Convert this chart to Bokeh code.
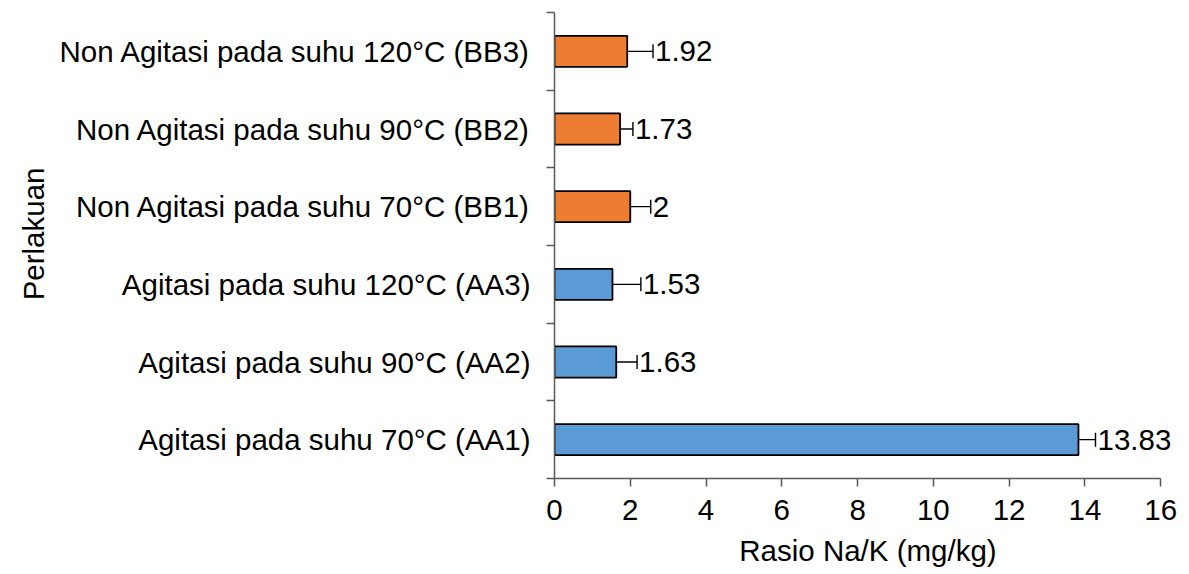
from bokeh.plotting import figure
from bokeh.models import ColumnDataSource, FixedTicker, Whisker, TeeHead, Range1d, Title
from bokeh.core.properties import value
from bokeh.embed import file_html
from bokeh.resources import INLINE

# data (bottom to top)
categories = [
    "Agitasi pada suhu 70°C (AA1)",
    "Agitasi pada suhu 90°C (AA2)",
    "Agitasi pada suhu 120°C (AA3)",
    "Non Agitasi pada suhu 70°C (BB1)",
    "Non Agitasi pada suhu 90°C (BB2)",
    "Non Agitasi pada suhu 120°C (BB3)",
]
values = [13.83, 1.63, 1.53, 2.0, 1.73, 1.92]
errors = [0.45, 0.55, 0.75, 0.54, 0.34, 0.68]
groups = ["A", "A", "A", "B", "B", "B"]
x_ticks = [0, 2, 4, 6, 8, 10, 12, 14, 16]

color_map = {"A": "#5B9BD5", "B": "#ED7D31"}
FONT = "Liberation Sans"
FS = "29.5px"

pos = [i + 0.5 for i in range(len(categories))]
src = ColumnDataSource(dict(
    y=pos,
    v=values,
    lo=[v - e for v, e in zip(values, errors)],
    hi=[v + e for v, e in zip(values, errors)],
    lab=[f"{v:g}" for v in values],
    color=[color_map[g] for g in groups],
))

p = figure(width=1181, height=574, output_backend="svg", toolbar_location=None,
           x_range=Range1d(0, 16.55), y_range=Range1d(0, len(categories)),
           min_border_left=554, min_border_top=12, min_border_right=0, min_border_bottom=96)
p.outline_line_color = None
p.xgrid.visible = False
p.ygrid.visible = False

p.hbar(y="y", right="v", left=0, height=0.4, source=src, fill_color="color",
       line_color="black", line_width=1.8)

w = Whisker(source=src, base="y", lower="lo", upper="hi", dimension="width",
            line_color="black", line_width=1.4,
            lower_head=TeeHead(size=14, line_color="black", line_width=1.4),
            upper_head=TeeHead(size=14, line_color="black", line_width=1.4))
p.add_layout(w)

p.text(x="hi", y="y", text="lab", source=src, x_offset=2,
       text_font=value(FONT), text_font_size=FS, text_color="black",
       text_baseline="middle", text_align="left")

axis_color = "#595959"
# x axis
xa = p.xaxis[0]
xa.ticker = FixedTicker(ticks=x_ticks, minor_ticks=[])
xa.bounds = (0, 16)
xa.axis_line_color = axis_color
xa.axis_line_width = 1.5
xa.major_tick_line_color = axis_color
xa.major_tick_line_width = 1.5
xa.major_tick_out = 8
xa.major_tick_in = 0
xa.minor_tick_line_color = None
xa.major_label_text_font = FONT
xa.major_label_text_font_size = FS
xa.major_label_text_color = "black"
xa.major_label_standoff = 13
xa.axis_label = "Rasio Na/K (mg/kg)"
xa.axis_label_text_font = FONT
xa.axis_label_text_font_size = FS
xa.axis_label_text_font_style = "normal"
xa.axis_label_text_color = "black"
xa.axis_label_standoff = 11

# y axis
ya = p.yaxis[0]
ya.ticker = FixedTicker(ticks=pos, minor_ticks=list(range(len(categories) + 1)))
ya.major_label_overrides = {pp: c for pp, c in zip(pos, categories)}
ya.axis_line_color = axis_color
ya.axis_line_width = 1.5
ya.major_tick_line_color = None
ya.major_tick_out = 0
ya.major_tick_in = 0
ya.minor_tick_line_color = axis_color
ya.minor_tick_line_width = 1.5
ya.minor_tick_out = 8
ya.minor_tick_in = 0
ya.major_label_text_font = FONT
ya.major_label_text_font_size = FS
ya.major_label_text_color = "black"
ya.major_label_standoff = 16

ytitle = Title(text="Perlakuan", align="right", vertical_align="top", offset=155, standoff=10,
               text_font=FONT, text_font_size=FS, text_font_style="normal",
               text_color="black")
p.add_layout(ytitle, "left")

open("out.html", "w").write(file_html(p, INLINE))
